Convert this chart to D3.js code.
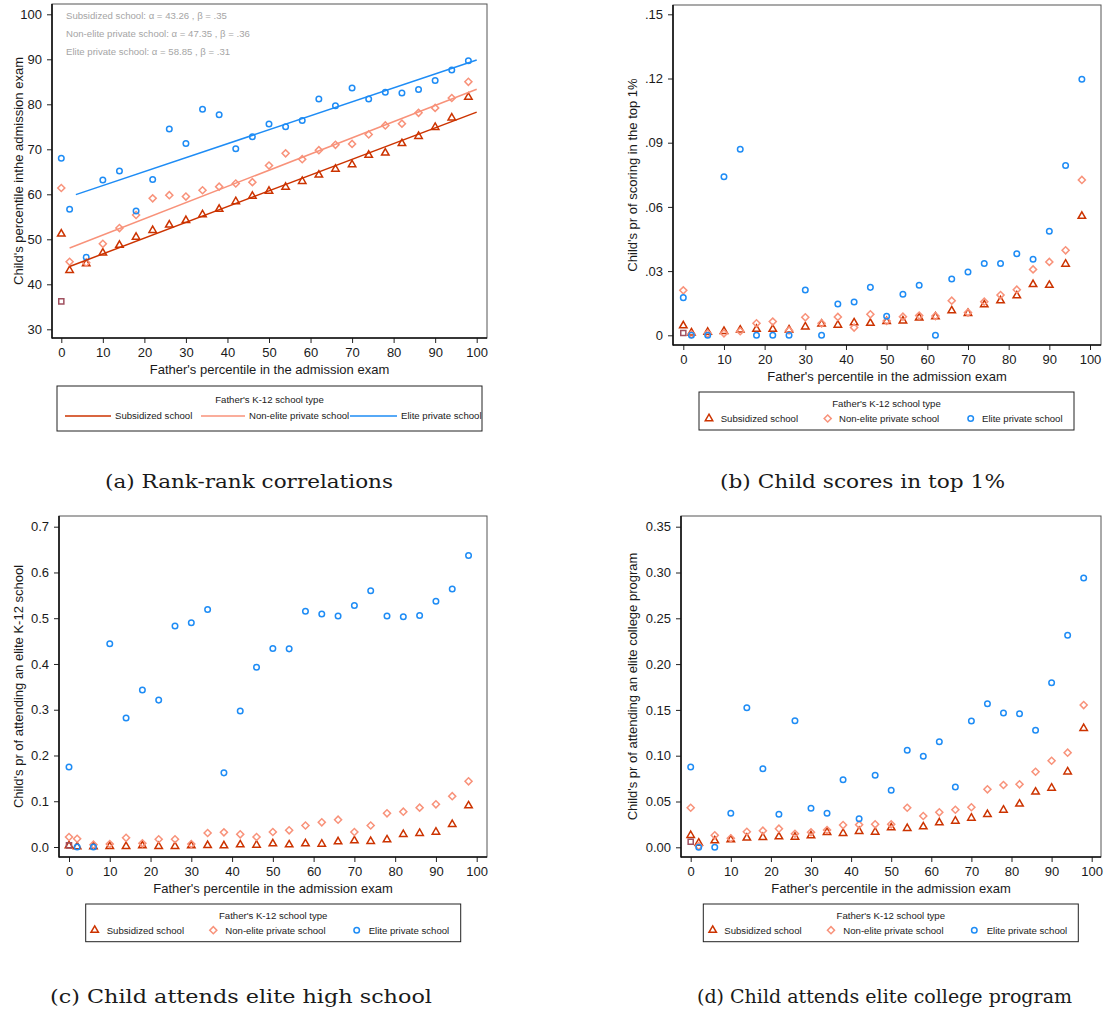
<!DOCTYPE html>
<html>
<head>
<meta charset="utf-8">
<title>Father's school type and child outcomes</title>
<script src="https://cdn.jsdelivr.net/npm/d3@7"></script>
<style>
  body { margin: 0; background: #fff; }
  svg text { font-family: "Liberation Sans", Arial, sans-serif; fill: #1a1a1a; }
  svg text.caption { font-family: "DejaVu Serif", serif; }
</style>
</head>
<body>
<svg id="fig" width="1105" height="1012"></svg>
<script>
// father's percentile bins (x for every panel)
var fatherPct = [0, 2, 6, 10, 14, 18, 22, 26, 30, 34, 38, 42, 46, 50, 54, 58, 62, 66, 70, 74, 78, 82, 86, 90, 94, 98];
var groupNames = ["Subsidized school", "Non-elite private school", "Elite private school"];

// (a) child's percentile
var rankSub      = [51.2, 43.1, 44.6, 47.0, 48.7, 50.5, 52.0, 53.2, 54.2, 55.5, 56.7, 58.4, 59.6, 60.7, 61.6, 62.9, 64.3, 65.6, 66.6, 68.7, 69.2, 71.3, 72.9, 74.9, 77.0, 81.6];
var rankNonElite = [61.4, 45.0, 44.8, 49.0, 52.5, 55.4, 59.1, 59.8, 59.5, 60.9, 61.7, 62.4, 62.7, 66.4, 69.1, 67.8, 69.8, 71.0, 71.2, 73.3, 75.3, 75.7, 78.1, 79.2, 81.4, 85.0];
var rankElite    = [68.0, 56.7, 46.0, 63.2, 65.2, 56.3, 63.3, 74.5, 71.3, 78.9, 77.7, 70.1, 72.8, 75.6, 75.0, 76.4, 81.2, 79.7, 83.6, 81.2, 82.7, 82.5, 83.3, 85.3, 87.6, 89.7];
var fitAlpha = [43.26, 47.35, 58.85];
var fitBeta  = [0.35, 0.36, 0.31];
var fitFrom  = [2, 2, 3.5];
var fitTo    = [100, 100, 100];
var fitNotes = ["Subsidized school: \u03b1 = 43.26 , \u03b2 = .35",
                "Non-elite private school: \u03b1 = 47.35 , \u03b2 = .36",
                "Elite private school: \u03b1 = 58.85 , \u03b2 = .31"];

// (b) pr of scoring in top 1%
var top1Sub      = [.0045, .0012, .0015, .0019, .0025, .0029, .0029, .0026, .0040, .0053, .0048, .0059, .0057, .0065, .0068, .0082, .0087, .0115, .0103, .0143, .0162, .0185, .0238, .0234, .0333, .0557];
var top1NonElite = [.0210, .0005, .0008, .0009, .0019, .0056, .0064, .0023, .0084, .0056, .0086, .0036, .0098, .0067, .0087, .0092, .0090, .0162, .0106, .0157, .0188, .0213, .0308, .0343, .0397, .0726];
var top1Elite    = [.0176, 0, 0, .0741, .0869, 0, 0, 0, .0212, 0, .0146, .0156, .0224, .0089, .0192, .0234, 0, .0263, .0296, .0336, .0336, .0381, .0355, .0486, .0793, .1196];

// (c) pr of attending an elite K-12 school
var k12Sub      = [.003, .001, .001, .0015, .0015, .003, .0015, .0015, .003, .0036, .003, .005, .0044, .0073, .005, .0073, .0066, .0117, .0138, .0124, .016, .0277, .030, .0328, .0496, .0903];
var k12NonElite = [.0219, .018, .005, .0066, .020, .008, .017, .017, .0066, .0306, .032, .0277, .0219, .0328, .0364, .047, .054, .0597, .0328, .047, .0736, .0772, .086, .0933, .111, .1435];
var k12Elite    = [.175, 0, 0, .444, .282, .343, .321, .483, .490, .519, .162, .297, .393, .434, .433, .515, .509, .505, .528, .560, .505, .503, .506, .537, .564, .637];

// (d) pr of attending an elite college program
var collegeSub      = [.0131, .0047, .0072, .0083, .0102, .0109, .0116, .0112, .0127, .0164, .0153, .0175, .0167, .0214, .0207, .0225, .0269, .0287, .032, .036, .0407, .0473, .0604, .0647, .0825, .1299];
var collegeNonElite = [.0432, .0014, .0131, .0098, .017, .0181, .0203, .0148, .0164, .0189, .0243, .0247, .0251, .0251, .0432, .0342, .0382, .041, .0437, .0633, .068, .0688, .0825, .0945, .1033, .1553];
var collegeElite    = [.0877, 0, 0, .0371, .1524, .0858, .036, .1382, .0426, .0371, .0738, .0312, .0786, .0622, .1059, .0993, .1153, .0658, .1379, .1568, .1466, .1459, .1277, .1797, .2314, .294];

// the extra square marker at father's percentile 0
var squareX = [0];
var squareRank = [36.2], squareTop1 = [.0011], squareK12 = [.0036], squareCollege = [.0061];

// ticks
var xTicks = [0, 10, 20, 30, 40, 50, 60, 70, 80, 90, 100];
var yTicksRank = [30, 40, 50, 60, 70, 80, 90, 100];
var yLabelsRank = ["30", "40", "50", "60", "70", "80", "90", "100"];
var yTicksTop1 = [0, .03, .06, .09, .12, .15];
var yLabelsTop1 = ["0", ".03", ".06", ".09", ".12", ".15"];
var yTicksK12 = [0, .1, .2, .3, .4, .5, .6, .7];
var yLabelsK12 = ["0.0", "0.1", "0.2", "0.3", "0.4", "0.5", "0.6", "0.7"];
var yTicksCollege = [0, .05, .1, .15, .2, .25, .3, .35];
var yLabelsCollege = ["0.00", "0.05", "0.10", "0.15", "0.20", "0.25", "0.30", "0.35"];

var colors = ["#cc3300", "#f8927a", "#1e8cf5"];
var squareColor = "#a0505f";
var xTitle = "Father's percentile in the admission exam";
var legendTitle = "Father's K-12 school type";

var svg = d3.select("#fig");

var panels = [
  { box: [52, 4, 487, 338], xr: [61.3, 476.7], yd: [30, 100], yr: [329.3, 14.3],
    yTicks: yTicksRank, yLabels: yLabelsRank, yTitle: "Child's percentile inthe admission exam", yTitleX: 18,
    series: [rankSub, rankNonElite, rankElite], square: squareRank, fits: true,
    legend: { box: [57, 386, 482, 431], lines: [[65, 111], [201, 245], [350, 397]], text: [115, 249, 401] },
    caption: { text: "(a) Rank-rank correlations", x: 105, w: 288, y: 488 } },
  { box: [673, 5, 1101, 345], xr: [683.3, 1090], yd: [0, .15], yr: [335.3, 14.3],
    yTicks: yTicksTop1, yLabels: yLabelsTop1, yTitle: "Child's pr of scoring in the top 1%", yTitleX: 632,
    series: [top1Sub, top1NonElite, top1Elite], square: squareTop1,
    legend: { box: [699, 392, 1074, 430], marks: [709, 827.7, 970.7], text: [720.7, 839, 982] },
    caption: { text: "(b) Child scores in top 1%", x: 720, w: 285, y: 488 } },
  { box: [59, 516, 487, 857], xr: [69, 476.7], yd: [0, .7], yr: [847, 526.7],
    yTicks: yTicksK12, yLabels: yLabelsK12, yTitle: "Child's pr of attending an elite K-12 school", yTitleX: 18,
    series: [k12Sub, k12NonElite, k12Elite], square: squareK12,
    legend: { box: [85.7, 904, 460.7, 941.7], marks: [94.7, 213.3, 356.7], text: [106.7, 225.3, 368.7] },
    caption: { text: "(c) Child attends elite high school", x: 50, w: 382, y: 1003 } },
  { box: [681, 516, 1101, 857], xr: [690.7, 1091.7], yd: [0, .35], yr: [847.3, 526.7],
    yTicks: yTicksCollege, yLabels: yLabelsCollege, yTitle: "Child's pr of attending an elite college program", yTitleX: 632,
    series: [collegeSub, collegeNonElite, collegeElite], square: squareCollege,
    legend: { box: [703.3, 904, 1078.3, 941.7], marks: [712.7, 831, 974.3], text: [724.3, 843.3, 986.7] },
    caption: { text: "(d) Child attends elite college program", x: 697, w: 375, y: 1003 } }
];

var shapes = [d3.symbolTriangle, d3.symbolSquare, d3.symbolCircle];
var sizes = [24, 25, 24];
var rotations = [0, 45, 0];

function marker(g, k, cx, cy) {
  g.append("path")
    .attr("d", d3.symbol().type(shapes[k]).size(sizes[k])())
    .attr("transform", "translate(" + cx + "," + cy + ") rotate(" + rotations[k] + ")")
    .attr("fill", "none")
    .attr("stroke", colors[k])
    .attr("stroke-width", 1.5);
}

panels.forEach(function (p) {
  var g = svg.append("g");
  var x = d3.scaleLinear().domain([0, 100]).range(p.xr);
  var y = d3.scaleLinear().domain(p.yd).range(p.yr);
  var L = p.box[0], T = p.box[1], R = p.box[2], B = p.box[3];

  // plot region box
  g.append("rect").attr("x", L).attr("y", T).attr("width", R - L).attr("height", B - T)
    .attr("fill", "none").attr("stroke", "#555").attr("stroke-width", 1);

  var ya = g.append("g").attr("transform", "translate(" + L + ",0)")
    .call(d3.axisLeft(y).tickValues(p.yTicks).tickFormat(function (d, i) { return p.yLabels[i]; })
      .tickSize(5).tickPadding(5));
  var xa = g.append("g").attr("transform", "translate(0," + B + ")")
    .call(d3.axisBottom(x).tickValues(xTicks).tickFormat(d3.format("d")).tickSize(5).tickPadding(5));
  [ya, xa].forEach(function (a) {
    a.select(".domain").remove();
    a.selectAll(".tick line").attr("stroke", "#222");
    a.selectAll(".tick text").attr("font-size", 13).style("fill", "#1a1a1a");
  });
  g.append("line").attr("x1", L).attr("x2", L).attr("y1", T).attr("y2", B + 0.5)
    .attr("stroke", "#111").attr("stroke-width", 1.6);
  g.append("line").attr("x1", L).attr("x2", R).attr("y1", B).attr("y2", B)
    .attr("stroke", "#111").attr("stroke-width", 1.6);

  g.append("text").attr("x", (L + R) / 2).attr("y", B + 35.5).attr("text-anchor", "middle")
    .attr("font-size", 13).text(xTitle);
  g.append("text").attr("transform", "translate(" + (p.yTitleX + 4.5) + "," + (T + B) / 2 + ") rotate(-90)")
    .attr("text-anchor", "middle").attr("font-size", 13).text(p.yTitle);

  // markers
  p.series.forEach(function (vals, k) {
    vals.forEach(function (v, i) { marker(g, k, x(fatherPct[i]), y(v)); });
  });
  p.square.forEach(function (v, i) {
    g.append("path")
      .attr("d", d3.symbol().type(d3.symbolSquare).size(26)())
      .attr("transform", "translate(" + x(squareX[i]) + "," + y(v) + ")")
      .attr("fill", "none").attr("stroke", squareColor).attr("stroke-width", 1.5);
  });

  // fitted lines and notes
  if (p.fits) {
    var line = d3.line().x(function (d) { return x(d); }).y(function (d, i, arr) { return y(arr.a + arr.b * d); });
    fitAlpha.forEach(function (a, k) {
      var pts = [fitFrom[k], fitTo[k]];
      pts.a = a; pts.b = fitBeta[k];
      g.append("path").attr("d", line(pts)).attr("fill", "none")
        .attr("stroke", colors[k]).attr("stroke-width", 1.5);
    });
    fitNotes.forEach(function (t, k) {
      g.append("text").attr("x", L + 14).attr("y", T + 14.5 + 18 * k).attr("font-size", 9.6)
        .style("fill", "#a5a5a5").text(t);
    });
  }

  // legend
  var lg = p.legend, lb = lg.box;
  g.append("rect").attr("x", lb[0]).attr("y", lb[1]).attr("width", lb[2] - lb[0]).attr("height", lb[3] - lb[1])
    .attr("fill", "#fff").attr("stroke", "#222").attr("stroke-width", 1);
  var entryY = lb[3] - (p.fits ? 15 : 11.5);
  g.append("text").attr("x", (lb[0] + lb[2]) / 2).attr("y", lb[1] + (p.fits ? 16.5 : 14.5))
    .attr("text-anchor", "middle").attr("font-size", 9.6).text(legendTitle);
  groupNames.forEach(function (name, k) {
    if (lg.lines) {
      g.append("line").attr("x1", lg.lines[k][0]).attr("x2", lg.lines[k][1])
        .attr("y1", entryY).attr("y2", entryY).attr("stroke", colors[k]).attr("stroke-width", 1.5);
    } else {
      marker(g, k, lg.marks[k], entryY);
    }
    g.append("text").attr("x", lg.text[k]).attr("y", entryY + 3.4).attr("font-size", 9.6).text(name);
  });

  // caption
  svg.append("text").attr("class", "caption").attr("x", p.caption.x).attr("y", p.caption.y)
    .attr("font-size", 19).attr("textLength", p.caption.w).attr("lengthAdjust", "spacingAndGlyphs")
    .text(p.caption.text);
});
</script>
</body>
</html>
